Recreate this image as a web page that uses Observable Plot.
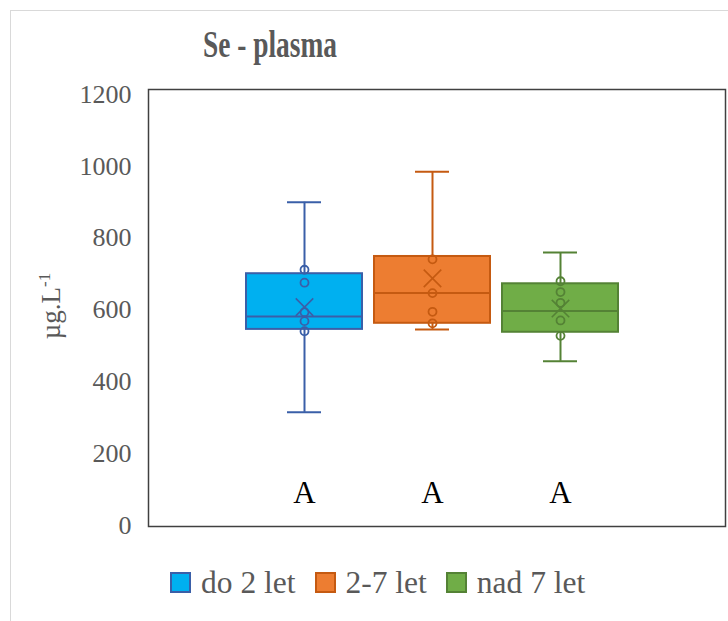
<!DOCTYPE html>
<html>
<head>
<meta charset="utf-8">
<script src="https://cdn.jsdelivr.net/npm/d3@7"></script>
<script src="https://cdn.jsdelivr.net/npm/@observablehq/plot@0.6"></script>
<style>
  html, body { margin: 0; padding: 0; background: #fff; overflow: hidden; }
  #wrap { position: relative; width: 728px; height: 621px; font-family: "Liberation Serif", "Times New Roman", serif; }
  #border { position: absolute; left: 10px; top: 10px; width: 740px; height: 640px; border: 1px solid #d9d9d9; box-sizing: border-box; }
  #title { position: absolute; left: 120px; width: 300px; top: 26px; text-align: center; font-size: 37px; font-weight: bold; color: #595959; line-height: 1; transform: scaleX(0.74); transform-origin: 150px 0; }
  #ylabel { position: absolute; left: 50px; top: 306px; transform: translate(-50%, -50%) rotate(-90deg); font-size: 27px; color: #595959; white-space: nowrap; line-height: 1; }
  #ylabel sup { font-size: 17px; vertical-align: 10px; }
  #chart { position: absolute; left: 0; top: 70px; }
  #legend { position: absolute; left: 170px; top: 567px; display: flex; align-items: center; font-size: 31.5px; color: #595959; line-height: 1; }
  .item { display: flex; align-items: center; margin-right: 19px; }
  .sw { width: 21px; height: 21px; box-sizing: border-box; border: 2px solid; margin-right: 10px; }
</style>
</head>
<body>
<div id="wrap">
  <div id="border"></div>
  <div id="title">Se - plasma</div>
  <div id="ylabel">µg.L<sup>-1</sup></div>
  <div id="chart"></div>
  <div id="legend"></div>
</div>
<script>
const categories = ["do 2 let", "2-7 let", "nad 7 let"];
const minVals = [315, 546, 457];
const q1Vals = [546, 563, 538];
const medians = [582, 647, 597];
const q3Vals = [701, 749, 673];
const maxVals = [900, 985, 760];
const means = [608, 688, 604];
const innerPoints = [
  [712, 676, 594, 569, 541],
  [741, 647, 595, 563],
  [680, 650, 620, 571, 528]
];
const letters = ["A", "A", "A"];
const yTicks = [0, 200, 400, 600, 800, 1000, 1200];
const fillColors = ["#00B0F0", "#ED7D31", "#70AD47"];
const strokeColors = ["#3A5FA8", "#C55A11", "#548235"];

const rows = categories.map((c, i) => ({
  cat: c, min: minVals[i], q1: q1Vals[i], med: medians[i], q3: q3Vals[i], max: maxVals[i],
  mean: means[i], fill: fillColors[i], stroke: strokeColors[i], letter: letters[i]
}));
const pts = categories.flatMap((c, i) => innerPoints[i].map(v => ({cat: c, v, stroke: strokeColors[i]})));

const chart = Plot.plot({
  width: 728,
  height: 470,
  marginLeft: 148,
  marginRight: 3,
  marginTop: 19,
  marginBottom: 14,
  style: {fontFamily: '"Liberation Serif", "Times New Roman", serif', fontSize: "26px", color: "#595959", background: "transparent"},
  x: {domain: categories, range: [245, 620], paddingInner: 0.093, paddingOuter: 0, axis: null},
  y: {domain: [0, 1200], range: [455, 24]},
  color: {type: "identity"},
  marks: [
    Plot.frame({stroke: "#404040", strokeWidth: 1.5}),
    Plot.axisY({ticks: yTicks, tickSize: 0, tickPadding: 17, label: null, fontSize: 26, tickFormat: d => String(d)}),
    Plot.ruleX(rows, {x: "cat", y1: "min", y2: "q1", stroke: "stroke", strokeWidth: 2}),
    Plot.ruleX(rows, {x: "cat", y1: "q3", y2: "max", stroke: "stroke", strokeWidth: 2}),
    Plot.tickY(rows, {x: "cat", y: "min", stroke: "stroke", strokeWidth: 2, insetLeft: 41, insetRight: 41}),
    Plot.tickY(rows, {x: "cat", y: "max", stroke: "stroke", strokeWidth: 2, insetLeft: 41, insetRight: 41}),
    Plot.barY(rows, {x: "cat", y1: "q1", y2: "q3", fill: "fill", stroke: "stroke", strokeWidth: 2}),
    Plot.tickY(rows, {x: "cat", y: "med", stroke: "stroke", strokeWidth: 2}),
    Plot.dot(pts, {x: "cat", y: "v", stroke: "stroke", fill: "none", r: 4, strokeWidth: 1.8}),
    Plot.dot(rows, {x: "cat", y: "mean", stroke: "stroke", symbol: "times", r: 8, strokeWidth: 1.6}),
    Plot.text(rows, {x: "cat", y: () => 90, text: "letter", fill: "black", fontSize: 31})
  ]
});
document.getElementById("chart").appendChild(chart);

const legend = document.getElementById("legend");
categories.forEach((c, i) => {
  const item = document.createElement("div");
  item.className = "item";
  const sw = document.createElement("div");
  sw.className = "sw";
  sw.style.background = fillColors[i];
  sw.style.borderColor = strokeColors[i];
  const t = document.createElement("span");
  t.textContent = c;
  item.appendChild(sw);
  item.appendChild(t);
  legend.appendChild(item);
});
</script>
</body>
</html>
